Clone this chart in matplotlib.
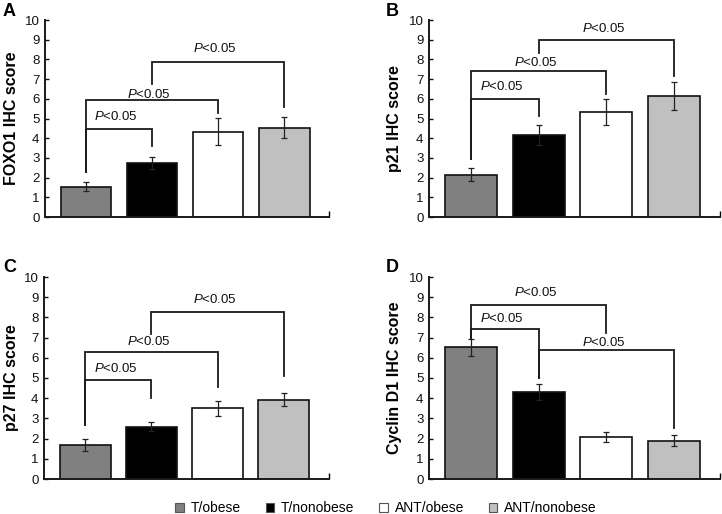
import matplotlib
matplotlib.use("Agg")
import matplotlib.pyplot as plt
from matplotlib.patches import Patch

plt.rcParams.update({
    "font.family": ["Liberation Sans", "DejaVu Sans"],
    "mathtext.fontset": "custom",
    "mathtext.it": "Liberation Sans:italic",
    "mathtext.rm": "Liberation Sans",
})

groups = ["T/obese", "T/nonobese", "ANT/obese", "ANT/nonobese"]
colors = ["#808080", "#000000", "#ffffff", "#c0c0c0"]

panel_ids = ["A", "B", "C", "D"]
ylabels = ["FOXO1 IHC score", "p21 IHC score", "p27 IHC score", "Cyclin D1 IHC score"]

foxo1 = [1.54, 2.74, 4.33, 4.53]
foxo1_err = [0.22, 0.29, 0.70, 0.53]
p21 = [2.14, 4.15, 5.32, 6.14]
p21_err = [0.33, 0.50, 0.65, 0.73]
p27 = [1.68, 2.59, 3.51, 3.92]
p27_err = [0.30, 0.22, 0.37, 0.33]
cyclin = [6.52, 4.30, 2.08, 1.90]
cyclin_err = [0.43, 0.40, 0.27, 0.27]

# brackets: (from bar, to bar, top, left leg end, right leg end, label y)
br_foxo1 = [(0, 1, 4.46, 2.26, 3.60, 5.10), (0, 2, 5.94, 2.26, 5.27, 6.24),
            (1, 3, 7.86, 6.77, 5.57, 8.56)]
br_p21 = [(0, 1, 6.00, 2.96, 5.13, 6.64), (0, 2, 7.39, 2.96, 6.24, 7.86),
          (1, 3, 9.00, 8.31, 7.14, 9.58)]
br_p27 = [(0, 1, 4.90, 2.69, 4.00, 5.47), (0, 2, 6.30, 2.69, 4.55, 6.80),
          (1, 3, 8.29, 7.18, 5.10, 8.89)]
br_cyclin = [(0, 1, 7.44, 6.95, 5.02, 7.93), (0, 2, 8.62, 6.95, 7.23, 9.21),
             (1, 3, 6.38, 5.02, 2.52, 6.74)]

values = [foxo1, p21, p27, cyclin]
errors = [foxo1_err, p21_err, p27_err, cyclin_err]
brackets = [br_foxo1, br_p21, br_p27, br_cyclin]

W, H = 722, 514
# axes boxes in pixels: left, right, top, bottom
boxes = [(45, 329, 20, 217), (429, 720, 20, 217),
         (44, 329, 277, 479), (429, 720, 277, 479)]
ylab_x = [12, 395, 12, 395]
tag_xy = [(3, 3), (386, 3), (3, 259), (386, 259)]

fig = plt.figure(figsize=(W / 100, H / 100), dpi=100)
XMIN, XMAX = -0.62, 3.68

for k in range(4):
    l, r, t, b = boxes[k]
    ax = fig.add_axes([l / W, 1 - b / H, (r - l) / W, (b - t) / H])
    x = range(len(groups))
    ax.bar(x, values[k], width=0.77, color=colors, edgecolor="#111111",
           linewidth=1.2, zorder=2)
    ax.errorbar(x, values[k], yerr=errors[k], fmt="none", ecolor="#222222",
                elinewidth=0.9, capsize=2.2, capthick=0.9, zorder=3)
    for i, j, top, lb, rb, ly in brackets[k]:
        ax.plot([i, i, j, j], [lb, top, top, rb], color="#1a1a1a", lw=1.3,
                solid_joinstyle="miter", zorder=4)
        ax.text((i + j) / 2 - 0.04, ly, "$P$<0.05", ha="center", va="center",
                fontsize=9.5, color="#111111")
    ax.set_xlim(XMIN, XMAX)
    ax.set_ylim(0, 10)
    ax.set_yticks(range(0, 11))
    ax.set_xticks([XMAX])
    ax.set_xticklabels([])
    ax.tick_params(axis="y", direction="in", length=3, width=1, labelsize=9.5,
                   pad=4, colors="#111111")
    ax.tick_params(axis="x", direction="in", length=4, width=1)
    for s in ("top", "right"):
        ax.spines[s].set_visible(False)
    for s in ("left", "bottom"):
        ax.spines[s].set_linewidth(1.4)
        ax.spines[s].set_color("#1a1a1a")
    fig.text(ylab_x[k] / W, 1 - (t + b) / 2 / H, ylabels[k], rotation=90,
             ha="center", va="center", fontsize=11.5, fontweight="bold")
    fig.text(tag_xy[k][0] / W, 1 - tag_xy[k][1] / H, panel_ids[k],
             ha="left", va="top", fontsize=13, fontweight="bold")

handles = [Patch(facecolor=c, edgecolor="#555555", linewidth=0.8) for c in colors]
fig.legend(handles, groups, loc="center", bbox_to_anchor=(386 / W, 1 - 508 / H),
           ncol=4, frameon=False, fontsize=10, handlelength=0.6, handleheight=0.6,
           handletextpad=0.5, columnspacing=1.8)

fig.savefig("out.png", dpi=100)
